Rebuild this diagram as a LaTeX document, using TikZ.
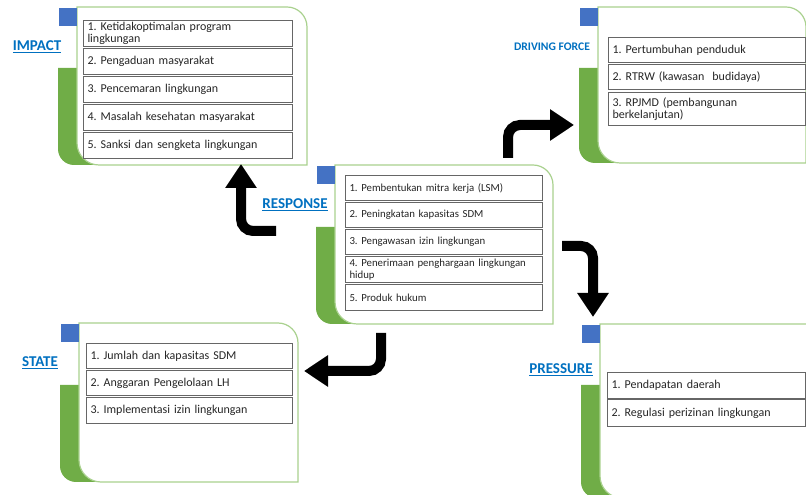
\documentclass[tikz,border=0pt]{standalone}
\usepackage{fontspec}
\setmainfont{Carlito}
\frenchspacing
\usetikzlibrary{%
    arrows.meta,%
    positioning
    }
\definecolor{dpsirgreen}{RGB}{112,173,71}
\definecolor{dpsirblue}{RGB}{68,114,196}
\definecolor{dpsirline}{RGB}{169,209,142}
\definecolor{dpsirlabel}{RGB}{0,112,192}
\tikzset{
  greenbar/.style={
    fill=dpsirgreen,
  },
  bluetab/.style={
    fill=dpsirblue,
  },
  panelbox/.style={
    draw=dpsirline,
    line width=1.2pt,
    fill=white,
  },
  item/.style={
    rectangle,
    draw=black!60,
    line width=1pt,
    fill=white,
    minimum height=25pt,
    inner xsep=4pt,
    inner ysep=0.5pt,
    align=left,
    text=black!85,
    font=\fontsize{12}{12.5}\selectfont,
  },
  smallitem/.style={
    item,
    font=\fontsize{10.8}{12}\selectfont,
  },
  title/.style={
    text=dpsirlabel,
    font=\fontsize{15}{16}\selectfont\bfseries,
  },
  bigarrow/.style={
    line width=10pt,
    rounded corners=12pt,
    -{Triangle[length=24pt,width=30pt]},
  },
}

\begin{document}
\begin{tikzpicture}[x=1pt,y=1pt,node distance=1pt]
\useasboundingbox (0,0) rectangle (806,495);

% panels: name/left/top/right/bottom/top of green bar
\foreach \nm/\xa/\ya/\xb/\yb/\yg in {%
    impact/77/488/307/330/427,
    drive/598/488/806/332/427,
    resp/335/330/553/171/268,
    state/79/172/298/13/110,
    press/600/171/830/-3/110}{
  \fill[greenbar] (\xa-19,\yg) -- (\xa-19,\yb+16)
    arc[start angle=180,end angle=270,radius=16pt]
    -- (\xa+30,\yb) -- (\xa+30,\yg) -- cycle;
  \draw[panelbox] (\xa,\ya) -- (\xb-20,\ya)
    arc[start angle=90,end angle=0,radius=20pt]
    -- (\xb,\yb) -- (\xa+22,\yb)
    arc[start angle=270,end angle=180,radius=22pt] -- cycle;
  \fill[bluetab] (\xa-18,\ya-1) rectangle (\xa,\ya-19);
  \coordinate (\nm) at (\xa,\ya);
}

% titles
\node[title] (implbl) at (37,448) {\underline{IMPACT}};
\node[title,font=\fontsize{11.6}{12}\selectfont\bfseries] (drvlbl) at (552,448) {DRIVING FORCE};
\node[title] (reslbl) at (295,290) {\underline{RESPONSE}};
\node[title] (stalbl) at (40,132) {\underline{STATE}};
\node[title] (prelbl) at (561,125) {\underline{PRESSURE}};

% impact
\node[item,text width=201pt,minimum height=26pt,below right=13pt and 6pt of impact]
  (imp1) {1. Ketidakoptimalan program\\lingkungan};
\node[item,text width=201pt,minimum height=26pt,below=of imp1]
  (imp2) {2. Pengaduan masyarakat};
\node[item,text width=201pt,minimum height=26pt,below=of imp2]
  (imp3) {3. Pencemaran lingkungan};
\node[item,text width=201pt,minimum height=26pt,below=of imp3]
  (imp4) {4. Masalah kesehatan masyarakat};
\node[item,text width=201pt,minimum height=26pt,below=of imp4]
  (imp5) {5. Sanksi dan sengketa lingkungan};

% driving force
\node[item,text width=189pt,below right=30pt and 10pt of drive]
  (drv1) {1. Pertumbuhan penduduk};
\node[item,text width=189pt,below=of drv1]
  (drv2) {2. RTRW (kawasan\ \ budidaya)};
\node[item,text width=189pt,minimum height=33pt,below=2pt of drv2]
  (drv3) {3. RPJMD (pembangunan\\berkelanjutan)};

% response
\node[smallitem,text width=189pt,below right=10pt and 10pt of resp]
  (res1) {1. Pembentukan mitra kerja (LSM)};
\node[smallitem,text width=189pt,below=of res1]
  (res2) {2. Peningkatan kapasitas SDM};
\node[smallitem,text width=189pt,below=of res2]
  (res3) {3. Pengawasan izin lingkungan};
\node[smallitem,text width=189pt,minimum height=26pt,below=of res3]
  (res4) {4. Penerimaan penghargaan lingkungan\\hidup};
\node[smallitem,text width=189pt,minimum height=26pt,below=of res4]
  (res5) {5. Produk hukum};

% state
\node[item,text width=198pt,below right=20pt and 7pt of state]
  (sta1) {1. Jumlah dan kapasitas SDM};
\node[item,text width=198pt,below=of sta1]
  (sta2) {2. Anggaran Pengelolaan LH};
\node[item,text width=198pt,minimum height=26pt,below=of sta2]
  (sta3) {3. Implementasi izin lingkungan};

% pressure
\node[item,text width=190pt,minimum height=26pt,below right=48pt and 7pt of press]
  (pre1) {1. Pendapatan daerah};
\node[item,text width=190pt,minimum height=27pt,below=0pt of pre1]
  (pre2) {2. Regulasi perizinan lingkungan};

% bent arrows
\coordinate (a1s) at (276,264);
\coordinate (a1e) at (241,331);
\coordinate (a2s) at (508,337);
\coordinate (a2e) at (574,370);
\coordinate (a3s) at (562,249);
\coordinate (a3e) at (593,178);
\coordinate (a4s) at (381,162);
\coordinate (a4e) at (304,124);
\begin{scope}[bigarrow]
\draw
  (a1s) -| (a1e);
\draw
  (a2s) |- (a2e);
\draw
  (a3s) -| (a3e);
\draw
  (a4s) |- (a4e);
\end{scope}
\end{tikzpicture}
\end{document}
